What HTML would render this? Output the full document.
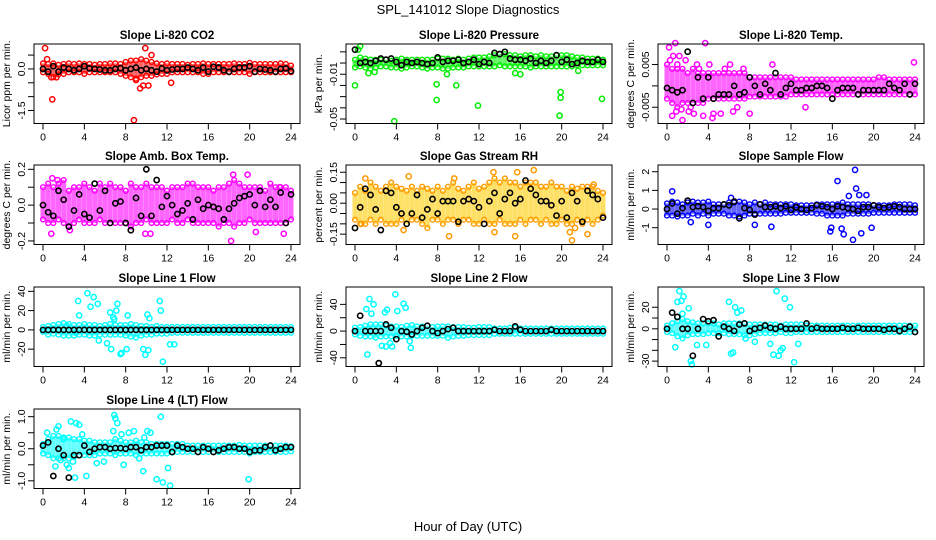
<!DOCTYPE html>
<html><head><meta charset="utf-8">
<style>
html,body{margin:0;padding:0;background:#fff;}
svg{display:block;font-family:"Liberation Sans",sans-serif;}
</style></head>
<body>
<svg id="chart" width="936" height="540" viewBox="0 0 936 540" xmlns="http://www.w3.org/2000/svg">
<rect width="936" height="540" fill="#fff"/>
<text x="468" y="14" text-anchor="middle" font-size="13">SPL_141012  Slope Diagnostics</text>
<text x="468" y="531" text-anchor="middle" font-size="13">Hour of Day (UTC)</text>
<g id="plots"></g>
</svg>
<script>
const hours=[0,0.5,1,1.5,2,2.5,3,3.5,4,4.5,5,5.5,6,6.5,7,7.5,8,8.5,9,9.5,10,10.5,11,11.5,12,12.5,13,13.5,14,14.5,15,15.5,16,16.5,17,17.5,18,18.5,19,19.5,20,20.5,21,21.5,22,22.5,23,23.5,24];
const xTicks=[0,4,8,12,16,20,24];

const co2Hi=[0.2,0.18,0.2,0.15,0.18,0.2,0.18,0.2,0.18,0.18,0.15,0.18,0.18,0.2,0.2,0.18,0.25,0.3,0.3,0.35,0.3,0.25,0.2,0.18,0.2,0.18,0.18,0.18,0.15,0.18,0.18,0.2,0.18,0.18,0.18,0.18,0.18,0.2,0.18,0.18,0.22,0.18,0.18,0.18,0.18,0.18,0.2,0.18,0.12];
const co2Lo=[-0.12,-0.18,-0.3,-0.2,-0.18,-0.12,-0.12,-0.12,-0.18,-0.12,-0.12,-0.12,-0.12,-0.12,-0.12,-0.18,-0.25,-0.3,-0.35,-0.3,-0.25,-0.25,-0.2,-0.18,-0.18,-0.12,-0.12,-0.12,-0.12,-0.12,-0.12,-0.18,-0.18,-0.12,-0.12,-0.12,-0.12,-0.12,-0.12,-0.12,-0.18,-0.12,-0.12,-0.12,-0.12,-0.12,-0.12,-0.12,-0.12];
const co2Black=[0,-0.1,0.1,-0.1,0.05,0,-0.05,0,0.1,0.02,0,-0.02,-0.05,-0.05,0,0.03,-0.05,0,0.05,-0.05,0,-0.05,-0.1,0.02,-0.05,-0.02,0,0,0.05,0,-0.05,0.05,-0.1,0.08,0.05,-0.05,-0.1,0,0.05,0.05,0.1,-0.1,0,-0.02,-0.05,-0.1,0,0.02,-0.08];
const co2OutX=[0.2,0.4,0.9,8.8,9.9,10.5,9,9.4,9.7,10.2,12.4,0.8,1.3];
const co2OutY=[0.75,0.35,-1.1,-1.85,0.75,0.5,-0.4,-0.7,-0.6,-0.6,-0.5,-0.3,-0.3];

const presHi=[0.003,0.005,0.004,0.003,0.003,0.003,0.003,0.002,0.003,0.004,0.003,0.003,0.003,0.003,0.003,0.003,0.004,0.004,0.004,0.003,0.004,0.003,0.004,0.005,0.005,0.005,0.006,0.007,0.008,0.008,0.007,0.007,0.006,0.007,0.007,0.006,0.007,0.006,0.006,0.007,0.007,0.007,0.006,0.005,0.005,0.004,0.004,0.004,0.003];
const presLo=[-0.004,-0.003,-0.004,-0.005,-0.004,-0.003,-0.003,-0.004,-0.004,-0.005,-0.004,-0.003,-0.003,-0.004,-0.005,-0.004,-0.004,-0.005,-0.005,-0.004,-0.004,-0.004,-0.003,-0.003,-0.003,-0.003,-0.003,-0.003,-0.002,-0.003,-0.003,-0.003,-0.003,-0.003,-0.004,-0.003,-0.003,-0.003,-0.003,-0.003,-0.003,-0.003,-0.003,-0.002,-0.002,-0.002,-0.002,-0.002,-0.002];
const presBlack=[0.012,0,0.001,0,0.002,0.004,0.003,0.004,0.001,-0.002,0.001,0,0.001,0,-0.001,0,0.005,0.001,0.002,0.002,0.003,0,0.001,0.003,-0.001,0.001,0,0.009,0.008,0.01,0.004,0.003,0.003,0.002,0.004,0,0.002,0,0.002,0.007,0.001,0.003,-0.001,0,0.002,0.001,0.001,0.003,0.001];
const presOutX=[0,0.3,3.8,7.9,7.9,9.8,11.9,19.9,19.9,19.8,23.9,0.5,8.9,16,1.3,1.9,15.5,21.6];
const presOutY=[-0.02,0.012,-0.052,-0.019,-0.033,-0.02,-0.038,-0.026,-0.031,-0.047,-0.032,0.015,-0.01,-0.01,-0.009,-0.008,-0.009,-0.007];

const tempHi=[0.005,0.004,0.004,0.004,0.003,0.004,0.003,0.003,0.003,0.003,0.003,0.003,0.003,0.003,0.003,0.003,0.002,0.002,0.002,0.002,0.002,0.002,0.002,0.002,0.002,0.0015,0.0015,0.0015,0.0015,0.0015,0.0015,0.0015,0.0015,0.0015,0.0015,0.0015,0.0015,0.0015,0.0015,0.0015,0.0015,0.002,0.002,0.0015,0.0015,0.0015,0.0015,0.0015,0.0015];
const tempLo=[-0.003,-0.004,-0.005,-0.004,-0.004,-0.004,-0.004,-0.004,-0.003,-0.003,-0.003,-0.003,-0.003,-0.003,-0.003,-0.003,-0.0025,-0.0025,-0.0025,-0.0025,-0.0025,-0.0025,-0.0025,-0.0025,-0.002,-0.002,-0.002,-0.002,-0.002,-0.002,-0.002,-0.002,-0.002,-0.002,-0.002,-0.002,-0.002,-0.002,-0.002,-0.002,-0.002,-0.002,-0.002,-0.002,-0.002,-0.002,-0.002,-0.002,-0.002];
const tempBlack=[-0.0005,-0.001,-0.0015,-0.001,0.008,-0.004,0.002,-0.003,0.002,-0.003,-0.002,-0.002,-0.002,0,-0.002,-0.0015,0.002,0,-0.002,0.0005,-0.001,0.003,-0.002,-0.0005,0.0005,-0.001,-0.001,-0.0005,-0.0005,0,0,-0.0005,-0.003,-0.001,-0.0005,-0.0005,-0.0005,-0.002,-0.001,-0.001,-0.001,-0.001,-0.001,0.0005,-0.0005,-0.001,0.0005,-0.002,0.0005];
const tempOutX=[0.2,0.8,1.2,0.5,1.5,3.7,0.6,0.9,2.3,2.6,3.5,4.4,4.5,5.2,6.4,8,13.4,23.9,1.4,10.2,0.3,1,1.8,2.1,2.9,3.1,4.1,5.6,6.1,6.8,7.4];
const tempOutY=[0.009,0.01,0.007,-0.007,-0.008,0.01,0.007,-0.006,-0.005,-0.0065,-0.007,-0.0075,-0.0065,-0.0065,-0.006,-0.0065,-0.005,0.0055,-0.0055,0.005,0.006,0.005,0.006,-0.006,0.005,0.004,0.005,0.004,0.005,-0.005,0.004];

const ambHi=[0.1,0.12,0.1,0.12,0.14,0.08,0.1,0.1,0.12,0.1,0.08,0.12,0.1,0.12,0.1,0.1,0.08,0.12,0.1,0.1,0.12,0.1,0.1,0.1,0.08,0.1,0.1,0.1,0.12,0.12,0.1,0.1,0.1,0.08,0.1,0.1,0.12,0.14,0.12,0.1,0.1,0.1,0.1,0.08,0.12,0.1,0.1,0.1,0.08];
const ambLo=[-0.08,-0.1,-0.1,-0.08,-0.1,-0.12,-0.1,-0.08,-0.1,-0.1,-0.1,-0.08,-0.1,-0.1,-0.1,-0.1,-0.1,-0.12,-0.1,-0.1,-0.08,-0.1,-0.1,-0.1,-0.1,-0.08,-0.1,-0.1,-0.08,-0.1,-0.1,-0.1,-0.1,-0.1,-0.12,-0.1,-0.1,-0.12,-0.1,-0.1,-0.08,-0.1,-0.1,-0.1,-0.1,-0.1,-0.1,-0.1,-0.08];
const ambBlack=[0,-0.04,-0.06,0.08,0.03,-0.12,-0.03,0.06,-0.05,-0.07,0.12,-0.03,0.08,-0.1,0.01,0.02,-0.1,-0.14,0.04,-0.06,0.2,-0.06,0.14,-0.01,0.05,0,-0.05,-0.03,0.01,-0.08,0.03,-0.02,0,-0.01,-0.02,-0.08,-0.02,0.01,0.04,0.05,0.06,0,0.08,-0.01,0.03,-0.01,0.07,-0.1,0.06];
const ambOutX=[0.8,2.6,9.9,10.4,18.2,18.4,19.8,20.6,23.3,22.9,0.9,1.4];
const ambOutY=[-0.16,-0.14,-0.16,-0.16,-0.2,0.17,0.17,-0.15,-0.16,0.1,0.15,0.14];

const rhHi=[0.05,0.08,0.06,0.1,0.08,0.06,0.08,0.1,0.08,0.07,0.06,0.08,0.06,0.08,0.07,0.06,0.08,0.06,0.08,0.1,0.07,0.06,0.08,0.1,0.07,0.08,0.1,0.12,0.1,0.12,0.1,0.1,0.08,0.1,0.1,0.1,0.08,0.08,0.1,0.08,0.08,0.06,0.08,0.07,0.08,0.08,0.08,0.06,0.05];
const rhLo=[-0.08,-0.1,-0.1,-0.08,-0.1,-0.08,-0.1,-0.1,-0.1,-0.08,-0.1,-0.08,-0.08,-0.1,-0.12,-0.08,-0.08,-0.1,-0.08,-0.08,-0.1,-0.08,-0.08,-0.1,-0.1,-0.08,-0.1,-0.1,-0.08,-0.1,-0.1,-0.1,-0.08,-0.1,-0.08,-0.08,-0.1,-0.08,-0.1,-0.1,-0.08,-0.1,-0.1,-0.08,-0.1,-0.08,-0.1,-0.08,-0.06];
const rhBlack=[-0.12,-0.02,0.07,0.04,-0.03,-0.13,0.06,0.05,-0.02,-0.05,-0.1,-0.05,0.04,-0.07,-0.03,0.02,-0.05,0.01,0.01,0.01,-0.09,0.01,0.02,0.01,-0.02,-0.1,0.01,0.05,-0.05,0.02,0.05,0,0.02,0.11,0.07,0.04,0.01,0.01,-0.01,-0.06,0.01,-0.07,0.05,0.01,-0.09,0.06,0.04,0.02,-0.07];
const rhOutX=[0.6,1,4.7,5.2,9.1,9.6,13.4,13.5,15.5,15.7,17.3,20.8,21,21.3,23.1,22.5];
const rhOutY=[-0.1,0.12,-0.13,0.13,-0.16,0.12,0.15,-0.14,-0.16,0.15,0.16,-0.14,-0.18,-0.12,0.09,-0.15];

const sfHi=[0.3,0.4,0.35,0.25,0.35,0.4,0.35,0.35,0.4,0.25,0.25,0.25,0.35,0.35,0.4,0.35,0.25,0.35,0.25,0.35,0.25,0.25,0.25,0.25,0.25,0.2,0.2,0.2,0.2,0.25,0.25,0.25,0.25,0.25,0.35,0.25,0.25,0.25,0.25,0.25,0.2,0.2,0.2,0.2,0.25,0.25,0.25,0.25,0.2];
const sfLo=[-0.35,-0.35,-0.4,-0.35,-0.35,-0.25,-0.35,-0.25,-0.35,-0.25,-0.25,-0.25,-0.35,-0.35,-0.4,-0.35,-0.25,-0.25,-0.25,-0.25,-0.25,-0.25,-0.25,-0.2,-0.2,-0.2,-0.2,-0.2,-0.2,-0.25,-0.25,-0.35,-0.35,-0.35,-0.35,-0.25,-0.25,-0.25,-0.25,-0.25,-0.2,-0.2,-0.2,-0.2,-0.2,-0.2,-0.2,-0.2,-0.2];
const sfBlack=[0,0.3,-0.25,0.05,0.45,0.1,0.15,0.1,-0.1,0.05,0.05,0.25,0.2,0.4,-0.5,0.05,-0.05,-0.3,0.25,0.1,0.1,0.15,0.05,0.15,-0.05,0.1,0,-0.05,0.05,0.2,0.15,0.1,0,0.15,0.1,0.05,0,-0.1,0.1,0.1,0.2,0.1,0.05,0.1,0.15,0.1,0,0,0];
const sfOutX=[0.5,2.3,4,6.2,8.5,10.1,16.5,15.8,17.6,18.2,18.3,18.6,17.1,18,18.8,19.3,19.8,16.9,15.9];
const sfOutY=[0.95,-0.7,-0.85,0.6,-0.85,-0.95,1.5,-1.2,0.7,2.1,1.1,0.75,-1.35,-1.65,-1.3,0.75,-1,-1.05,-1];

const l1Hi=[3,4,5,6,7,6,5,5,6,5,5,4,5,6,5,5,5,6,5,4,4,3,4,3,3,3,3,3,3,3,3,3,3,3,3,3,3,3,3,3,3,3,3,3,3,3,3,3,3];
const l1Lo=[-2,-5,-4,-5,-6,-6,-6,-5,-5,-6,-6,-5,-5,-5,-5,-5,-6,-7,-8,-6,-5,-5,-4,-4,-4,-3,-3,-3,-3,-3,-3,-3,-3,-3,-3,-3,-3,-3,-3,-3,-3,-3,-3,-3,-3,-3,-3,-3,-3];
const l1Black=[0,0,0,0,0,0,0,0,0,0,0,0,0,0,0,0,0,0,0,0,0,0,0,0,0,0,0,0,0,0,0,0,0,0,0,0,0,0,0,0,0,0,0,0,0,0,0,0,0];
const l1OutX=[3.5,4.3,3.4,4.6,4.9,5.3,5.4,6.2,6.6,6.9,7.2,7.1,7.5,7.6,8.2,9.7,9.9,10.2,10.3,10.1,11.3,11.4,11.6,6.5,6.8,12.3,12.7,8.1,3.2,2.3];
const l1OutY=[15,38,30,24,34,27,-11,-14,-20,11,27,20,-25,-24,15,-20,-26,-21,12,16,30,20,-33,18,13,-15,-15,-20,-3,4];

const l2Hi=[5,6,8,10,10,10,8,7,7,6,8,9,7,7,8,6,7,7,7,6,6,6,5,5,6,6,6,4,4,4,5,5,4,4,4,4,4,4,4,4,4,4,4,4,4,4,4,4,4];
const l2Lo=[-5,-7,-8,-8,-10,-8,-8,-8,-7,-8,-8,-7,-7,-7,-7,-7,-7,-7,-10,-8,-7,-7,-6,-6,-6,-6,-6,-4,-4,-4,-4,-4,-4,-4,-4,-4,-4,-4,-4,-4,-4,-4,-4,-4,-4,-4,-4,-4,-4];
const l2Black=[0,23,0,0,0,0,10,5,-12,0,-1,-5,0,5,8,0,-3,0,3,5,0,0,0,0,0,0,0,2,0,0,0,7,2,0,0,0,0,0,2,0,0,0,0,0,0,0,0,0,0];
const l2BlackOutX=[2.3];
const l2BlackOutY=[-48];
const l2OutX=[1.1,1.4,1.6,1.8,1.2,2.6,3,3.4,3.6,3.9,2.9,3.1,4.1,4.7,4.9,5.3,5.4];
const l2OutY=[33,48,26,40,-35,-22,-23,-18,-23,55,28,32,30,41,35,-15,-25];

const l3Hi=[3,5,7,9,7,6,5,5,5,5,4,5,5,5,5,5,4,4,4,4,4,4,3,4,4,4,4,3,3,3,3,3,3,3,3,3,3,3,3,3,3,3,3,3,3,3,3,3,3];
const l3Lo=[-3,-4,-7,-9,-6,-5,-5,-5,-4,-4,-4,-4,-5,-5,-5,-6,-6,-5,-4,-4,-4,-4,-3,-4,-4,-3,-3,-3,-3,-3,-3,-3,-3,-3,-3,-3,-3,-3,-3,-3,-3,-3,-3,-3,-3,-3,-3,-3,-3];
const l3Black=[0,15,11,0,0,-25,0,9,7,8,-7,2,0,-2,4,5,-2,0,1,3,1,0,2,0,0,0,0,5,0,1,0,0,0,0,1,0,0,1,0,0,0,0,-1,0,0,-2,0,2,-3];
const l3OutX=[0.8,1,1.2,1.4,1.5,2.1,2.3,2.4,2.9,3.8,6,6.2,6.4,6.6,6.8,7.2,7.6,8.5,10.3,10.6,10.8,11,11.4,11.9,12.3,12.7,10,11.2,1.6];
const l3OutY=[-17,25,35,26,14,19,-30,-33,-15,-15,25,-23,-22,20,15,17,-9,-12,-24,35,-25,-20,28,20,-31,-14,-14,-18,30];

const l4Hi=[0.15,0.3,0.4,0.4,0.35,0.35,0.3,0.3,0.25,0.25,0.2,0.2,0.2,0.2,0.3,0.25,0.2,0.2,0.25,0.2,0.2,0.15,0.15,0.15,0.15,0.15,0.15,0.15,0.1,0.1,0.1,0.1,0.1,0.1,0.1,0.1,0.1,0.1,0.12,0.1,0.1,0.1,0.1,0.1,0.1,0.1,0.1,0.1,0.08];
const l4Lo=[-0.15,-0.2,-0.3,-0.3,-0.3,-0.3,-0.25,-0.2,-0.2,-0.2,-0.2,-0.15,-0.15,-0.15,-0.2,-0.15,-0.15,-0.15,-0.2,-0.15,-0.15,-0.15,-0.15,-0.15,-0.15,-0.12,-0.1,-0.1,-0.1,-0.1,-0.1,-0.1,-0.1,-0.1,-0.1,-0.1,-0.1,-0.1,-0.1,-0.1,-0.15,-0.1,-0.1,-0.1,-0.1,-0.1,-0.1,-0.1,-0.08];
const l4Black=[0.1,0.2,-0.85,0,-0.2,-0.9,-0.2,-0.2,0.1,-0.1,0,0.05,0.05,0,0.02,0.02,0,0.05,0.05,-0.05,0.05,0.05,0.1,0.1,0.1,-0.1,0.1,0.05,0,0,-0.1,0.05,0,-0.1,-0.05,0,0.05,0.05,0,0,-0.1,-0.05,-0.05,0.05,0.1,-0.05,0,0.05,0.05];
const l4OutX=[1.2,1.5,1.7,2.3,2.7,3.2,3.5,2.5,3.1,4.2,6.9,7,7.2,6.8,7.8,8.3,8.8,9.3,9.7,10.1,10.4,11,11.4,11.6,12.1,12.3,7.6,19.9,9.8,0.4,1.3,2,2.9,3.8,5.2,5.9];
const l4OutY=[-0.55,0.7,-0.35,-0.5,0.85,0.8,0.75,-0.6,-0.9,-0.85,1.05,0.95,0.8,0.55,-0.5,0.5,0.55,-0.3,-0.7,0.55,0.5,-0.95,1.0,-1.05,-0.6,-1.15,0.45,-0.95,0.35,0.5,0.6,0.3,-0.4,0.45,-0.45,-0.4];

const co2Ticks=[0.5,0,-0.5,-1,-1.5], co2Labels=["","0.0","","","-1.5"];
const presTicks=[0.01,0,-0.01,-0.02,-0.03,-0.04,-0.05], presLabels=["","","-0.01","","","","-0.05"];
const tempTicks=[0.005,0,-0.005], tempLabels=["0.005","","-0.005"];
const ambTicks=[0.2,0.1,0,-0.1,-0.2], ambLabels=["0.2","","0.0","","-0.2"];
const rhTicks=[0.15,0.1,0.05,0,-0.05,-0.1,-0.15], rhLabels=["0.15","","","0.00","","","-0.15"];
const sfTicks=[2,1,0,-1], sfLabels=["2","1","0","-1"];
const l1Ticks=[40,20,0,-20], l1Labels=["40","20","0","-20"];
const l2Ticks=[40,20,0,-20,-40], l2Labels=["40","","0","","-40"];
const l3Ticks=[20,10,0,-10,-20,-30], l3Labels=["20","","0","","","-30"];
const l4Ticks=[1,0.5,0,-0.5,-1], l4Labels=["1.0","","0.0","","-1.0"];

const panels=[
 {id:"co2",title:"Slope Li-820 CO2",ylab:"Licor ppm per min.",c:0,r:0,top:0.9,bot:-1.97,col:"#ff0000",fill:"#ff0000",hi:co2Hi,lo:co2Lo,blk:co2Black,ox:co2OutX,oy:co2OutY,ticks:co2Ticks,labels:co2Labels},
 {id:"pressure",title:"Slope Li-820 Pressure",ylab:"kPa per min.",c:1,r:0,top:0.017,bot:-0.054,col:"#00ee00",fill:"#00ee00",hi:presHi,lo:presLo,blk:presBlack,ox:presOutX,oy:presOutY,ticks:presTicks,labels:presLabels},
 {id:"temp",title:"Slope Li-820 Temp.",ylab:"degrees C per min.",c:2,r:0,top:0.0098,bot:-0.0088,col:"#ff00ff",fill:"#ff00ff",hi:tempHi,lo:tempLo,blk:tempBlack,ox:tempOutX,oy:tempOutY,ticks:tempTicks,labels:tempLabels},
 {id:"amb-box-temp",title:"Slope Amb. Box Temp.",ylab:"degrees C per min.",c:0,r:1,top:0.224,bot:-0.22,col:"#ff00ff",fill:"#ff00ff",hi:ambHi,lo:ambLo,blk:ambBlack,ox:ambOutX,oy:ambOutY,ticks:ambTicks,labels:ambLabels},
 {id:"gas-rh",title:"Slope Gas Stream RH",ylab:"percent per min.",c:1,r:1,top:0.185,bot:-0.2,col:"#ff9900",fill:"#ffcc00",hi:rhHi,lo:rhLo,blk:rhBlack,ox:rhOutX,oy:rhOutY,ticks:rhTicks,labels:rhLabels},
 {id:"sample-flow",title:"Slope Sample Flow",ylab:"ml/min per min.",c:2,r:1,top:2.36,bot:-1.9,col:"#0000ff",fill:"#0000ff",hi:sfHi,lo:sfLo,blk:sfBlack,ox:sfOutX,oy:sfOutY,ticks:sfTicks,labels:sfLabels},
 {id:"line1-flow",title:"Slope Line 1 Flow",ylab:"ml/min per min.",c:0,r:2,top:44.5,bot:-38,col:"#00ffff",fill:"#00ffff",hi:l1Hi,lo:l1Lo,blk:l1Black,ox:l1OutX,oy:l1OutY,ticks:l1Ticks,labels:l1Labels},
 {id:"line2-flow",title:"Slope Line 2 Flow",ylab:"ml/min per min.",c:1,r:2,top:66,bot:-53,col:"#00ffff",fill:"#00ffff",hi:l2Hi,lo:l2Lo,blk:l2Black,ox:l2OutX,oy:l2OutY,bx:l2BlackOutX,by:l2BlackOutY,ticks:l2Ticks,labels:l2Labels},
 {id:"line3-flow",title:"Slope Line 3 Flow",ylab:"ml/min per min.",c:2,r:2,top:38.8,bot:-35,col:"#00ffff",fill:"#00ffff",hi:l3Hi,lo:l3Lo,blk:l3Black,ox:l3OutX,oy:l3OutY,ticks:l3Ticks,labels:l3Labels},
 {id:"line4-flow",title:"Slope Line 4 (LT) Flow",ylab:"ml/min per min.",c:0,r:3,top:1.24,bot:-1.24,col:"#00ffff",fill:"#00ffff",hi:l4Hi,lo:l4Lo,blk:l4Black,ox:l4OutX,oy:l4OutY,ticks:l4Ticks,labels:l4Labels}
];

const NS="http://www.w3.org/2000/svg";
const rowTops=[44,165,287,409];
const root=document.getElementById("plots");
function mk(tag,attrs,parent){const e=document.createElementNS(NS,tag);for(const k in attrs)e.setAttribute(k,attrs[k]);parent.appendChild(e);return e;}

panels.forEach(p=>{
  const g=mk("g",{},root);
  
  
  const L=34+312*p.c, R=300+312*p.c, T=rowTops[p.r], B=T+79.5;
  const x0=43+312*p.c;
  const xs=h=>x0+h*248/24;
  const ys=v=>T+(p.top-v)/(p.top-p.bot)*(B-T);
  const t=mk("text",{x:(L+R)/2,y:T-5,"text-anchor":"middle","font-size":"11.5","font-weight":"bold"},g);
  t.textContent=p.title;
  
  
  const yl=mk("text",{x:0,y:0,"text-anchor":"middle","font-size":"10.5",transform:`translate(${L-24},${(T+B)/2}) rotate(-90)`},g);
  yl.textContent=p.ylab;
  
  
  const mg=mk("g",{},g);
  
  
  hours.forEach((h,i)=>{
    const band=mk("rect",{x:xs(h)-2.5,y:ys(p.hi[i]),width:5,height:Math.max(1,ys(p.lo[i])-ys(p.hi[i])),fill:p.fill,"fill-opacity":0.6},mg);
    
    
    [p.hi[i],p.lo[i]].forEach(v=>{
      const c=mk("circle",{cx:xs(h),cy:ys(v),r:2.4,fill:"none",stroke:p.col,"stroke-width":1.4},mg);
      
      
    });
  });
  p.ox.forEach((h,i)=>{
    const c=mk("circle",{cx:xs(h),cy:ys(p.oy[i]),r:2.6,fill:"none",stroke:p.col,"stroke-width":1.5},mg);
    
    
  });
  hours.forEach((h,i)=>{
    const c=mk("circle",{cx:xs(h),cy:ys(p.blk[i]),r:2.6,fill:"none",stroke:"#000","stroke-width":1.6},mg);
    
    
  });
  if(p.bx){p.bx.forEach((h,i)=>{
    const c=mk("circle",{cx:xs(h),cy:ys(p.by[i]),r:2.6,fill:"none",stroke:"#000","stroke-width":1.6},mg);
    
    
  });}
  const bx=mk("rect",{x:L,y:T,width:R-L,height:B-T,fill:"none",stroke:"#000","stroke-width":1},g);
  
  
  const xa=mk("g",{},g);
  
  
  xTicks.forEach(v=>{
    mk("line",{x1:xs(v),x2:xs(v),y1:B,y2:B+6,stroke:"#000"},xa);
    const tl=mk("text",{x:xs(v),y:B+17,"text-anchor":"middle","font-size":"10.5"},xa);
    tl.textContent=v;
    
    
  });
  const ya=mk("g",{},g);
  
  
  p.ticks.forEach((v,i)=>{
    mk("line",{x1:L-6,x2:L,y1:ys(v),y2:ys(v),stroke:"#000"},ya);
    if(p.labels[i]){
      const tl=mk("text",{x:0,y:0,"text-anchor":"middle","font-size":"10.5",transform:`translate(${L-9},${ys(v)}) rotate(-90)`},ya);
      tl.textContent=p.labels[i];
      
      
    }
  });
});
</script>
</body></html>
